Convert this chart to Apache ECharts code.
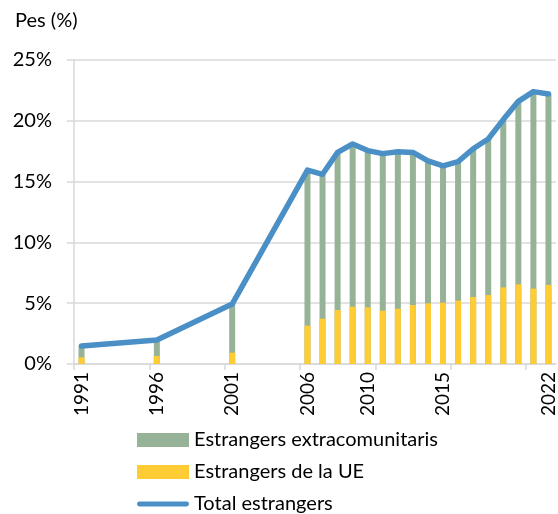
<!DOCTYPE html>
<html>
<head>
<meta charset="utf-8">
<script src="https://cdn.jsdelivr.net/npm/echarts@6/dist/echarts.min.js"></script>
<style>
  html, body { margin: 0; padding: 0; background: #fff; }
  #main { width: 558px; height: 514px; }
</style>
</head>
<body>
<div id="main"></div>
<script>
// anys amb dades
var years = [1991, 1996, 2001, 2006, 2007, 2008, 2009, 2010, 2011, 2012, 2013, 2014, 2015, 2016, 2017, 2018, 2019, 2020, 2021, 2022]
// estrangers de la UE (%)
var euValues = [0.55, 0.66, 0.93, 3.15, 3.73, 4.44, 4.71, 4.66, 4.38, 4.55, 4.85, 4.99, 5.04, 5.21, 5.51, 5.67, 6.3, 6.55, 6.2, 6.5]
// estrangers extracomunitaris (%)
var nonEuValues = [0.93, 1.31, 4.0, 12.8, 11.87, 12.96, 13.39, 12.89, 12.92, 12.9, 12.55, 11.71, 11.26, 11.44, 12.19, 12.83, 13.8, 15.05, 16.2, 15.7]
// total estrangers (%)
var totalValues = [1.48, 1.97, 4.93, 15.95, 15.6, 17.4, 18.1, 17.55, 17.3, 17.45, 17.4, 16.7, 16.3, 16.65, 17.7, 18.5, 20.1, 21.6, 22.4, 22.2]

var xLabels = [1991, 1996, 2001, 2006, 2010, 2015, 2022]
var xTicks = [1990.5, 1995.5, 2000.5, 2005.5, 2010.5, 2015.5, 2020.5]

var fontFamily = 'Lato'
var blue = '#4A90C6'
var myChart = echarts.init(document.getElementById('main'))

// eix de valors: no apila, la barra verda va de 0 a UE + extracomunitaris
var stackedTop = years.map(function (y, i) { return [y, euValues[i] + nonEuValues[i]] })
var euBars = years.map(function (y, i) { return [y, euValues[i]] })
var totalLine = years.map(function (y, i) { return [y, totalValues[i]] })

var option = {
  animation: false,
  title: {
    text: 'Pes (%)',
    left: 10,
    top: 6,
    textStyle: { fontFamily: fontFamily, fontSize: 20, fontWeight: 'normal', color: '#000' }
  },
  legend: {
    orient: 'vertical',
    left: 137,
    top: 430,
    padding: 0,
    itemWidth: 52,
    itemHeight: 14,
    itemGap: 12,
    textStyle: { fontFamily: fontFamily, fontSize: 20, lineHeight: 20, color: '#000' },
    data: [
      { name: 'Estrangers extracomunitaris', icon: 'rect' },
      { name: 'Estrangers de la UE', icon: 'rect' },
      {
        name: 'Total estrangers',
        icon: 'path://M2.5,0 L51.5,0 A2.5,2.5 0 0 1 51.5,5 L2.5,5 A2.5,2.5 0 0 1 2.5,0 Z'
      }
    ]
  },
  grid: {
    left: 74,
    right: 2,
    top: 60,
    bottom: 150
  },
  xAxis: {
    type: 'value',
    min: 1990.5,
    max: 2022.5,
    splitLine: { show: false },
    axisLine: { lineStyle: { color: '#d9d9d9', width: 1.5 } },
    axisTick: {
      show: true,
      length: 6,
      customValues: xTicks,
      lineStyle: { color: '#d9d9d9', width: 1.5 }
    },
    axisLabel: {
      customValues: xLabels,
      rotate: 90,
      margin: 8,
      fontFamily: fontFamily,
      fontSize: 19,
      color: '#000',
      formatter: function (v) { return String(v) }
    }
  },
  yAxis: {
    type: 'value',
    min: 0,
    max: 25,
    interval: 5,
    axisLine: { show: true, lineStyle: { color: '#d9d9d9', width: 1.5 } },
    axisTick: { show: true, length: 7, lineStyle: { color: '#d9d9d9', width: 1.5 } },
    splitLine: { lineStyle: { color: '#d9d9d9', width: 1.5 } },
    axisLabel: {
      formatter: '{value}%',
      margin: 22,
      fontFamily: fontFamily,
      fontSize: 20,
      color: '#000'
    }
  },
  series: [
    {
      name: 'Estrangers extracomunitaris',
      type: 'bar',
      barWidth: 6,
      barGap: '-100%',
      itemStyle: { color: '#97B397' },
      data: stackedTop
    },
    {
      name: 'Estrangers de la UE',
      type: 'bar',
      barWidth: 6,
      barGap: '-100%',
      itemStyle: { color: '#FFCC33' },
      data: euBars
    },
    {
      name: 'Total estrangers',
      type: 'line',
      showSymbol: false,
      symbol: 'none',
      z: 5,
      lineStyle: { color: blue, width: 5.5, cap: 'round', join: 'round' },
      itemStyle: { color: blue },
      data: totalLine
    }
  ]
}

myChart.setOption(option)
</script>
</body>
</html>
